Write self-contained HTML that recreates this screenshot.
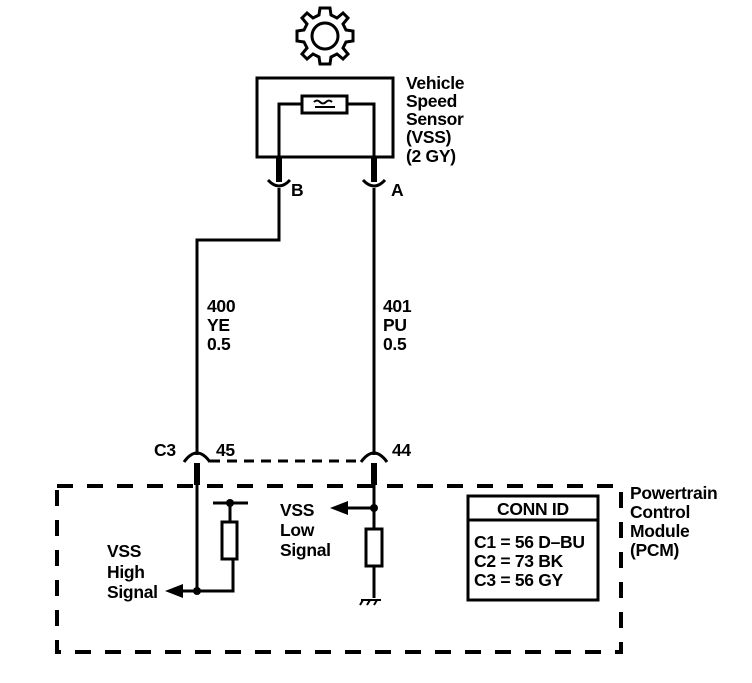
<!DOCTYPE html>
<html><head><meta charset="utf-8"><style>
html,body{margin:0;padding:0;background:#fff}
svg text{font-family:"Liberation Sans",sans-serif;font-size:17.5px;font-weight:bold;fill:#000;letter-spacing:-0.3px}
</style></head><body>
<svg width="752" height="678" viewBox="0 0 752 678" xmlns="http://www.w3.org/2000/svg">
<g fill="none" stroke="#000" stroke-width="3">
<!-- gear -->
<g transform="translate(325,36)">
<circle r="13"/>
<path d="M-5,-28 L5,-28 L6,-21 L12,-18 L18,-23 L23,-18 L18,-12 L21,-6 L28,-5 L28,5 L21,6 L18,12 L23,18 L18,23 L12,18 L6,21 L5,28 L-5,28 L-6,21 L-12,18 L-18,23 L-23,18 L-18,12 L-21,6 L-28,5 L-28,-5 L-21,-6 L-18,-12 L-23,-18 L-18,-23 L-12,-18 L-6,-21 Z"/>
</g>
<!-- sensor box -->
<rect x="257" y="78" width="136" height="79"/>
<path d="M279,157 V104 H302 M347,104 H374 V157"/>
<rect x="302" y="96" width="45" height="17"/>
<path d="M314,102 q3,-3 6,0 q3,3 6,0 q3,-3 6,0 M315,107 H335" stroke-width="2"/>
<!-- stubs -->
<path d="M279,157 V182 M374,157 V182" stroke-width="6"/>
<path d="M268,180 q11,12 22,0 M363,180 q11,12 22,0"/>
<!-- wires -->
<path d="M279,188 V240 H197 V455 M374,188 V455"/>
<!-- lower connectors -->
<path d="M184,462 q13,-18 26,0 M361,462 q13,-18 26,0"/>
<path d="M210,461 H361" stroke-dasharray="10,7"/>
<path d="M197,463 V485 M374,463 V485" stroke-width="6"/>
<!-- PCM dashed box -->
<path d="M57,486 H621 V652 H57 Z" stroke-width="4" stroke-dasharray="16,14"/>
<!-- left internal -->
<path d="M197,485 V591 H233 V559 M230,522 V503 M213,503 H248 M180,591 H197"/>
<rect x="222" y="522" width="15" height="37"/>
<!-- right internal -->
<path d="M374,485 V529 M374,566 V598 M374,508 H345"/>
<rect x="366" y="529" width="16" height="37"/>
<path d="M361,600 H381 M363,600 l-3,5 M370,600 l-3,5 M377,600 l-3,5" stroke-width="2"/>
<!-- conn id box -->
<rect x="468" y="496" width="130" height="104"/>
<path d="M468,520 H598"/>
</g>
<g fill="#000">
<circle cx="230" cy="503" r="4"/>
<circle cx="197" cy="591" r="4"/>
<circle cx="374" cy="508" r="4"/>
<path d="M165,591 L183,584 L183,598 Z"/>
<path d="M330,508 L348,501 L348,515 Z"/>
</g>
<text x="406" y="89">Vehicle</text>
<text x="406" y="107">Speed</text>
<text x="406" y="125">Sensor</text>
<text x="406" y="143">(VSS)</text>
<text x="406" y="162">(2 GY)</text>
<text x="291" y="196">B</text>
<text x="391" y="196">A</text>
<text x="207" y="312">400</text>
<text x="207" y="331">YE</text>
<text x="207" y="350">0.5</text>
<text x="383" y="312">401</text>
<text x="383" y="331">PU</text>
<text x="383" y="350">0.5</text>
<text x="154" y="456">C3</text>
<text x="216" y="456">45</text>
<text x="392" y="456">44</text>
<text x="107" y="557">VSS</text>
<text x="107" y="578">High</text>
<text x="107" y="598">Signal</text>
<text x="280" y="516">VSS</text>
<text x="280" y="536">Low</text>
<text x="280" y="556">Signal</text>
<text x="497" y="515">CONN ID</text>
<text x="474" y="548">C1 = 56 D–BU</text>
<text x="474" y="567">C2 = 73 BK</text>
<text x="474" y="586">C3 = 56 GY</text>
<text x="630" y="499">Powertrain</text>
<text x="630" y="518">Control</text>
<text x="630" y="537">Module</text>
<text x="630" y="556">(PCM)</text>
</svg>
</body></html>
